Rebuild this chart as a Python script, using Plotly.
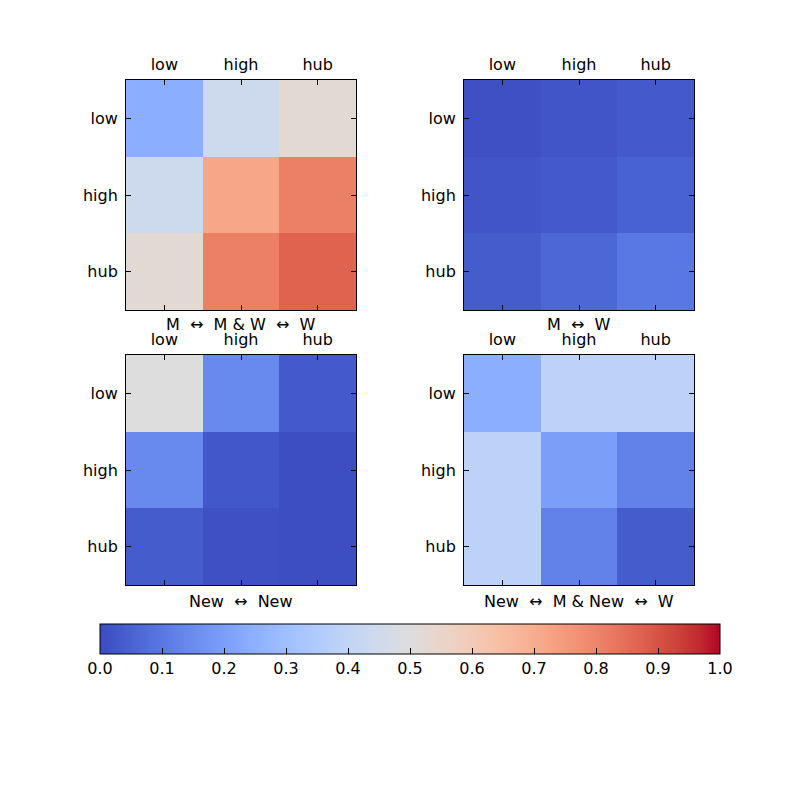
import plotly.graph_objects as go

categories = ["low", "high", "hub"]

# values (rows = y category, cols = x category)
m_mw_w = [[0.245, 0.44, 0.525],
          [0.44, 0.72, 0.81],
          [0.525, 0.81, 0.87]]
m_w = [[0.01, 0.02, 0.03],
       [0.02, 0.03, 0.05],
       [0.035, 0.06, 0.10]]
new_new = [[0.50, 0.145, 0.03],
           [0.145, 0.025, 0.005],
           [0.035, 0.01, 0.005]]
new_mnew_w = [[0.245, 0.39, 0.39],
              [0.39, 0.20, 0.125],
              [0.39, 0.125, 0.035]]

ARW = "\u00a0\u00a0\u2194\u00a0\u00a0"
titles = ["M%sM &amp; W%sW" % (ARW, ARW),
          "M%sW" % ARW,
          "New%sNew" % ARW,
          "New%sM &amp; New%sW" % (ARW, ARW)]

cbar_ticks = [0.0, 0.1, 0.2, 0.3, 0.4, 0.5, 0.6, 0.7, 0.8, 0.9, 1.0]

coolwarm_rgb = [(59, 76, 192), (68, 90, 204), (77, 104, 215), (87, 117, 225), (98, 130, 234),
                (108, 142, 241), (119, 154, 247), (130, 165, 251), (141, 176, 254), (152, 185, 255),
                (163, 194, 255), (174, 201, 253), (184, 208, 249), (194, 213, 244), (204, 217, 238),
                (213, 219, 230), (221, 221, 221), (229, 216, 209), (236, 211, 197), (241, 204, 184),
                (245, 196, 172), (247, 187, 160), (247, 177, 148), (247, 166, 135), (244, 154, 123),
                (241, 141, 111), (236, 127, 99), (229, 112, 88), (222, 96, 77), (213, 80, 66),
                (203, 62, 56), (192, 40, 47), (180, 4, 38)]
n = len(coolwarm_rgb) - 1
colorscale = [[i / n, "rgb(%d,%d,%d)" % c] for i, c in enumerate(coolwarm_rgb)]

W = H = 800.0
OFF = 8  # page body margin
# pixel boxes (left, right, top, bottom) in screenshot coordinates
boxes = [(126, 356, 80, 310), (464, 694, 80, 310), (126, 356, 355, 585), (464, 694, 355, 585)]
title_y = [324, 324, 601, 601]
data = [m_mw_w, m_w, new_new, new_mnew_w]


def px(v):
    return (v - OFF) / W


def py(v):
    return 1 - (v - OFF) / H


font = dict(family="DejaVu Sans", size=16, color="black")
fig = go.Figure()
annotations = []
for i, (z, box) in enumerate(zip(data, boxes)):
    xa = "x" if i == 0 else "x%d" % (i + 1)
    ya = "y" if i == 0 else "y%d" % (i + 1)
    tr = go.Heatmap(z=z, x=categories, y=categories, zmin=0, zmax=1, colorscale=colorscale,
                    xaxis=xa, yaxis=ya, showscale=(i == 0), hoverinfo="skip")
    if i == 0:
        tr.colorbar = dict(orientation="h", x=px(100), xanchor="left", len=620 / W, lenmode="fraction",
                           y=py(624), yanchor="top", thickness=30, thicknessmode="pixels",
                           outlinewidth=1, outlinecolor="black", ticks="inside", ticklen=6,
                           tickcolor="black", tickvals=cbar_ticks,
                           ticktext=["%.1f" % v for v in cbar_ticks], tickfont=font,
                           xpad=0, ypad=0)
    fig.add_trace(tr)
    l, r, t, b = box
    axis_common = dict(showline=True, linecolor="black", linewidth=1, mirror="ticks",
                       ticks="inside", ticklen=5, tickcolor="black", showgrid=False,
                       zeroline=False, tickfont=font, type="category")
    xkey = "xaxis" if i == 0 else "xaxis%d" % (i + 1)
    ykey = "yaxis" if i == 0 else "yaxis%d" % (i + 1)
    fig.update_layout(**{
        xkey: dict(domain=[px(l), px(r)], anchor=ya, side="top", range=[-0.5, 2.5],
                   ticklabelstandoff=3, **axis_common),
        ykey: dict(domain=[py(b), py(t)], anchor=xa, range=[2.5, -0.5],
                   ticklabelstandoff=4, **axis_common),
    })
    annotations.append(dict(text=titles[i], x=px((l + r) / 2), y=py(title_y[i]),
                            xref="paper", yref="paper", xanchor="center", yanchor="middle",
                            showarrow=False, font=font))

fig.update_layout(width=800, height=800, margin=dict(l=0, r=0, t=0, b=0),
                  paper_bgcolor="white", plot_bgcolor="white", annotations=annotations,
                  showlegend=False)
fig.write_html("out.html")
